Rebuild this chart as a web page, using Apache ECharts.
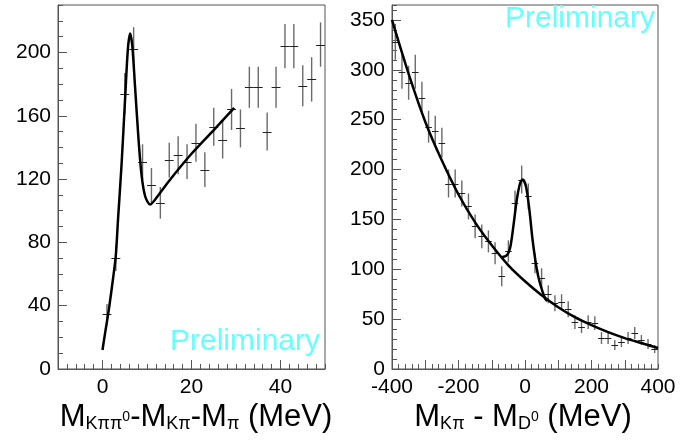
<!DOCTYPE html>
<html>
<head>
<meta charset="utf-8">
<script src="https://cdn.jsdelivr.net/npm/echarts@6/dist/echarts.min.js"></script>
<style>
  html, body { margin: 0; padding: 0; background: #fff; }
  #main { width: 699px; height: 441px; }
</style>
</head>
<body>
<div id="main"></div>
<script>
// left panel: M(K pi pi0) - M(K pi) - M(pi), 2 MeV bins
var leftBins = [1, 3, 5, 7, 9, 11, 13, 15, 17, 19, 21, 23, 25, 27, 29, 31, 33, 35, 37, 39, 41, 43, 45, 47, 49];
var leftCounts = [35, 70, 174, 202, 131, 116, 105, 132, 135, 131, 143, 126, 153, 145, 164, 152, 178, 178, 150, 178, 204, 204, 179, 183, 205];
var leftErrs = [6, 8, 13, 14, 11, 11, 10, 11, 12, 11, 12, 11, 12, 12, 13, 12, 13, 13, 12, 13, 14, 14, 13, 14, 14];
// fit curve
var leftFitX = [0, 0.6, 1.4, 2.5, 3, 3.5, 4.3, 5.1, 5.7, 6.2, 6.7, 7.3, 8.1, 8.8, 9.6, 10.7, 11.8, 15, 20, 25, 29.6];
var leftFitY = [12, 23, 37, 60, 72, 95, 130, 172, 202, 212, 204, 179, 145, 122, 109, 104, 107, 119, 136, 151, 165];

// right panel: M(K pi) - M(D0), 20 MeV bins
var rightBins = [-390, -370, -350, -330, -310, -290, -270, -250, -230, -210, -190, -170, -150, -130, -110, -90, -70, -50, -30, -10,
  10, 30, 50, 70, 90, 110, 130, 150, 170, 190, 210, 230, 250, 270, 290, 310, 330, 350, 370, 390];
var rightCounts = [328, 298, 287, 298, 272, 243, 239, 227, 186, 186, 176, 163, 143, 133, 128, 116, 93, 118, 166, 190,
  173, 106, 91, 75, 66, 67, 60, 47, 42, 47, 46, 31, 31, 24, 27, 31, 36, 29, 25, 20];
var rightErrs = [18, 17, 17, 17, 16, 16, 15, 15, 14, 14, 13, 13, 12, 12, 11, 11, 10, 11, 13, 14,
  13, 10, 10, 9, 8, 8, 8, 7, 6, 7, 7, 6, 6, 5, 5, 6, 6, 5, 5, 4];
// background curve
var bgX = [-400, -350, -300, -250, -200, -150, -100, -50, 0, 50, 100, 150, 200, 250, 300, 350, 400];
var bgY = [350, 296, 248, 209, 175, 147, 124, 104, 88, 74, 62, 52, 44, 37, 31, 26, 21];
// signal + background
var peakX = [-70, -55, -45, -35, -25, -15, -7, 3, 13, 23, 35, 45, 60, 67];
var peakY = [112, 114, 121, 143, 169, 186, 190, 183, 160, 129, 101, 86, 71, 68];

var FONT = "'Liberation Sans', Arial, Helvetica, sans-serif";
var FRAME = '#555';

function zip(xs, ys, es) {
  return xs.map(function (x, i) { return es ? [x, ys[i], es[i]] : [x, ys[i]]; });
}

function errBars(halfWidth) {
  return function (params, api) {
    var x = api.value(0), y = api.value(1), e = api.value(2);
    var top = api.coord([x, y + e]);
    var bot = api.coord([x, y - e]);
    var l = api.coord([x - halfWidth, y]);
    var r = api.coord([x + halfWidth, y]);
    var cy = Math.round(l[1]) + 0.5;
    return {
      type: 'group',
      children: [
        { type: 'line', shape: { x1: top[0], y1: top[1], x2: top[0], y2: bot[1] }, style: { stroke: '#6a6a6a', lineWidth: 1.4 } },
        { type: 'line', shape: { x1: l[0], y1: cy, x2: r[0], y2: cy }, style: { stroke: '#222', lineWidth: 1 } }
      ]
    };
  };
}

// small ticks + labels axis
function mainAxis(grid, min, max, step, labelStep, isX) {
  return {
    type: 'value', gridIndex: grid, min: min, max: max, interval: step,
    position: isX ? 'bottom' : 'left',
    axisLine: { show: true, onZero: false, lineStyle: { color: FRAME, width: 1 } },
    axisTick: { show: true, inside: true, length: 5, lineStyle: { color: FRAME } },
    splitLine: { show: false },
    axisLabel: {
      show: true, color: '#000', fontSize: 21, fontFamily: FONT, margin: isX ? 8 : 7,
      hideOverlap: false,
      formatter: function (v) { return v % labelStep === 0 ? String(v) : ''; }
    }
  };
}
// long ticks only
function longTickAxis(grid, min, max, values, isX) {
  return {
    type: 'value', gridIndex: grid, min: min, max: max,
    position: isX ? 'bottom' : 'left',
    axisLine: { show: false, onZero: false },
    axisTick: { show: true, inside: true, length: 9, customValues: values, lineStyle: { color: FRAME } },
    axisLabel: { show: false },
    splitLine: { show: false }
  };
}

var titleRich = {
  m: { fontSize: 31, verticalAlign: 'bottom', fontFamily: FONT, fill: '#000' },
  s: { fontSize: 18, verticalAlign: 'bottom', fontFamily: FONT, fill: '#000' },
  u: { fontSize: 14, verticalAlign: 'bottom', padding: [0, 0, 9, 0], fontFamily: FONT, fill: '#000' }
};

var chart = echarts.init(document.getElementById('main'), null, { renderer: 'canvas' });

var option = {
  animation: false,
  backgroundColor: '#fff',
  grid: [
    { left: 58, top: 5, width: 267, height: 364, show: true, borderColor: FRAME, borderWidth: 1 },
    { left: 392, top: 5, width: 266, height: 364, show: true, borderColor: FRAME, borderWidth: 1 }
  ],
  xAxis: [
    mainAxis(0, -10, 50, 2, 20, true),
    longTickAxis(0, -10, 50, [0, 20, 40], true),
    mainAxis(1, -400, 400, 20, 200, true),
    longTickAxis(1, -400, 400, [-300, -200, -100, 0, 100, 200, 300], true)
  ],
  yAxis: [
    mainAxis(0, 0, 230, 10, 40, false),
    longTickAxis(0, 0, 230, [40, 80, 120, 160, 200], false),
    mainAxis(1, 0, 365, 10, 50, false),
    longTickAxis(1, 0, 365, [50, 100, 150, 200, 250, 300, 350], false)
  ],
  graphic: [
    {
      type: 'text', x: 196, y: 433, z: 10,
      style: {
        text: '{m|M}{s|Kππ}{u|0}{m|-M}{s|Kπ}{m|-M}{s|π}{m| (MeV)}',
        align: 'center', verticalAlign: 'bottom', fill: '#000',
        rich: titleRich
      }
    },
    {
      type: 'text', x: 523, y: 433, z: 10,
      style: {
        text: '{m|M}{s|Kπ}{m| - M}{s|D}{u|0}{m| (MeV)}',
        align: 'center', verticalAlign: 'bottom', fill: '#000',
        rich: titleRich
      }
    },
    {
      type: 'text', x: 320, y: 342, z: 10,
      style: { text: 'Preliminary', fontSize: 30, fontFamily: FONT, fill: '#66ffff', align: 'right', verticalAlign: 'middle' }
    },
    {
      type: 'text', x: 655, y: 19, z: 10,
      style: { text: 'Preliminary', fontSize: 30, fontFamily: FONT, fill: '#66ffff', align: 'right', verticalAlign: 'middle' }
    }
  ],
  series: [
    {
      type: 'custom', xAxisIndex: 0, yAxisIndex: 0, clip: true,
      renderItem: errBars(1),
      encode: { x: 0, y: 1 },
      data: zip(leftBins, leftCounts, leftErrs)
    },
    {
      type: 'line', xAxisIndex: 0, yAxisIndex: 0, smooth: 0.3, symbol: 'none', z: 5,
      lineStyle: { color: '#000', width: 2.5 },
      data: zip(leftFitX, leftFitY)
    },
    {
      type: 'custom', xAxisIndex: 2, yAxisIndex: 2, clip: true,
      renderItem: errBars(10),
      encode: { x: 0, y: 1 },
      data: zip(rightBins, rightCounts, rightErrs)
    },
    {
      type: 'line', xAxisIndex: 2, yAxisIndex: 2, smooth: 0.3, symbol: 'none', z: 5,
      lineStyle: { color: '#000', width: 2.5 },
      data: zip(bgX, bgY)
    },
    {
      type: 'line', xAxisIndex: 2, yAxisIndex: 2, smooth: 0.3, symbol: 'none', z: 5,
      lineStyle: { color: '#000', width: 2.5 },
      data: zip(peakX, peakY)
    }
  ]
};

chart.setOption(option);
</script>
</body>
</html>
